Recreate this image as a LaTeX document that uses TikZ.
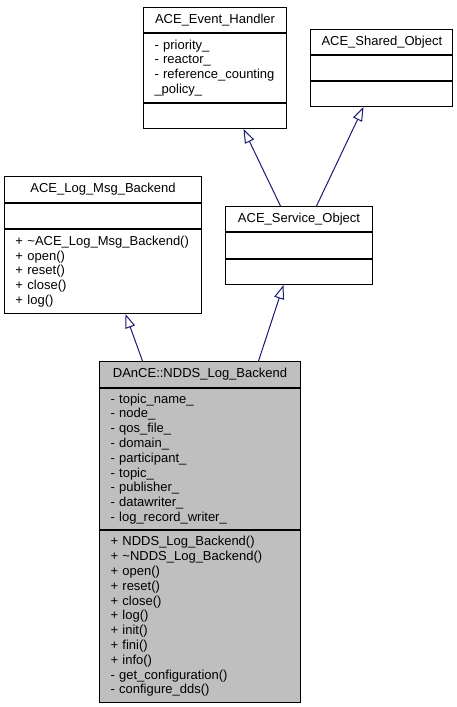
\documentclass[tikz,border=0pt]{standalone}
\usepackage{fontspec}
\setmainfont{Liberation Sans}
\usetikzlibrary{arrows.meta}
\definecolor{edgeblue}{RGB}{25,25,112}
\definecolor{classgray}{RGB}{191,191,191}
\tikzset{
	hd/.style={draw, line width=1pt, fill=white, align=center, inner xsep=11pt, inner ysep=0pt, anchor=north west},
	cmp/.style={draw, line width=1pt, fill=white, align=left, inner xsep=11pt, inner ysep=0pt, anchor=north},
	inh/.style={draw=edgeblue, line width=1pt, -{Triangle[length=14pt, width=10pt, fill=white]}}
}
\begin{document}
\begin{tikzpicture}[x=1pt, y=-1pt, font=\fontsize{13}{14.8}\selectfont]
	\useasboundingbox (0,0) rectangle (457,707);
	\node[hd, text width=121pt, minimum height=25pt] (ehT) at (143,7) {ACE\_Event\_Handler};
	\node[cmp, text width=121pt, minimum height=69pt] (ehA) at (ehT.south) {- priority\_\\- reactor\_\\- reference\_counting\\\_policy\_};
	\node[cmp, text width=121pt, minimum height=25pt] (ehM) at (ehA.south) {};
	\node[hd, text width=120pt, minimum height=25pt] (soT) at (310,29) {ACE\_Shared\_Object};
	\node[cmp, text width=120pt, minimum height=25pt] (soA) at (soT.south) {};
	\node[cmp, text width=120pt, minimum height=25pt] (soM) at (soA.south) {};
	\node[hd, text width=125pt, minimum height=25pt] (svcT) at (225,206) {ACE\_Service\_Object};
	\node[cmp, text width=125pt, minimum height=26pt] (svcA) at (svcT.south) {};
	\node[cmp, text width=125pt, minimum height=25pt] (svcM) at (svcA.south) {};
	\node[hd, text width=175pt, minimum height=26pt] (lmbT) at (4,176) {ACE\_Log\_Msg\_Backend};
	\node[cmp, text width=175pt, minimum height=25pt] (lmbA) at (lmbT.south) {};
	\node[cmp, text width=175pt, minimum height=84pt] (lmbM) at (lmbA.south) {+ \textasciitilde ACE\_Log\_Msg\_Backend()\\+ open()\\+ reset()\\+ close()\\+ log()};
	\node[hd, fill=classgray, text width=179pt, minimum height=26pt] (dT) at (99,361) {DAnCE::NDDS\_Log\_Backend};
	\node[cmp, fill=classgray, text width=179pt, minimum height=141pt] (dA) at (dT.south) {- topic\_name\_\\- node\_\\- qos\_file\_\\- domain\_\\- participant\_\\- topic\_\\- publisher\_\\- datawriter\_\\- log\_record\_writer\_};
	\node[cmp, fill=classgray, text width=179pt, minimum height=172pt] (dM) at (dA.south) {+ NDDS\_Log\_Backend()\\+ \textasciitilde NDDS\_Log\_Backend()\\+ open()\\+ reset()\\+ close()\\+ log()\\+ init()\\+ fini()\\+ info()\\- get\_configuration()\\- configure\_dds()};
	\draw[inh] ([xshift=-18.5pt]svcT.north) -- ([xshift=28.5pt]ehM.south);
	\draw[inh] ([xshift=17.5pt]svcT.north) -- ([xshift=-18pt]soM.south);
	\draw[inh] ([xshift=-57.5pt]dT.north) -- ([xshift=22.5pt]lmbM.south);
	\draw[inh] ([xshift=58.5pt]dT.north) -- ([xshift=-15.5pt]svcM.south);
\end{tikzpicture}
\end{document}
